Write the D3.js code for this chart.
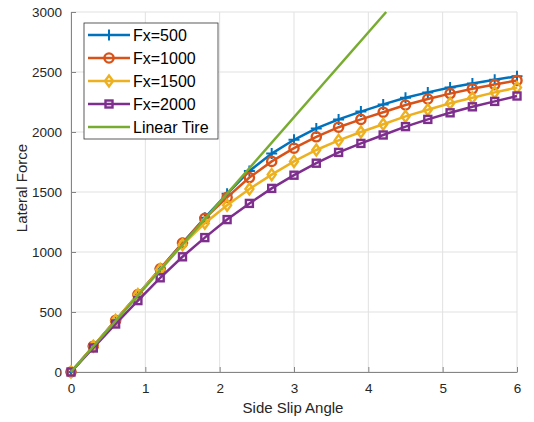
<!DOCTYPE html>
<html>
<head>
<meta charset="utf-8">
<script src="https://cdn.jsdelivr.net/npm/d3@7"></script>
<style>
  body { margin: 0; background: #fff; }
  text { font-family: "Liberation Sans", Arial, sans-serif; }
</style>
</head>
<body>
<div id="chart"></div>
<script>
// slip angle samples
var slip = [0, 0.3, 0.6, 0.9, 1.2, 1.5, 1.8, 2.1, 2.4, 2.7, 3.0, 3.3, 3.6, 3.9, 4.2, 4.5, 4.8, 5.1, 5.4, 5.7, 6.0];

var fx500  = [0, 215, 430, 645, 860, 1075, 1285, 1485, 1675, 1820, 1935, 2030, 2105, 2170, 2230, 2285, 2330, 2370, 2405, 2435, 2465];
var fx1000 = [0, 215, 430, 645, 860, 1075, 1280, 1455, 1620, 1755, 1865, 1960, 2040, 2105, 2165, 2225, 2275, 2320, 2360, 2395, 2430];
var fx1500 = [0, 215, 430, 645, 855, 1060, 1240, 1390, 1525, 1645, 1755, 1850, 1930, 2000, 2065, 2130, 2185, 2240, 2285, 2330, 2370];
var fx2000 = [0, 200, 400, 595, 785, 960, 1120, 1270, 1405, 1530, 1640, 1740, 1830, 1905, 1975, 2045, 2105, 2160, 2210, 2255, 2300];

var linearX = [0, 4.24];
var linearY = [0, 3000];

var names = ["Fx=500", "Fx=1000", "Fx=1500", "Fx=2000", "Linear Tire"];
var colors = ["#0072BD", "#D95319", "#EDB120", "#7E2F8E", "#77AC30"];
var markers = ["plus", "circle", "diamond", "square", "none"];

var xTicks = [0, 1, 2, 3, 4, 5, 6];
var yTicks = [0, 500, 1000, 1500, 2000, 2500, 3000];

var W = 534, H = 422;
var mLeft = 71, mRight = 517, mTop = 12, mBottom = 372;

var svg = d3.select("#chart").append("svg")
  .attr("width", W).attr("height", H);

var x = d3.scaleLinear().domain([0, 6]).range([mLeft, mRight]);
var y = d3.scaleLinear().domain([0, 3000]).range([mBottom, mTop]);

// grid
svg.append("g").selectAll("line").data(xTicks).enter().append("line")
  .attr("x1", function(d) { return x(d); }).attr("x2", function(d) { return x(d); })
  .attr("y1", mTop).attr("y2", mBottom)
  .attr("stroke", "#e1e1e1").attr("stroke-width", 1);
svg.append("g").selectAll("line").data(yTicks).enter().append("line")
  .attr("x1", mLeft).attr("x2", mRight)
  .attr("y1", function(d) { return y(d); }).attr("y2", function(d) { return y(d); })
  .attr("stroke", "#e1e1e1").attr("stroke-width", 1);

// axes
var xAxis = d3.axisBottom(x).tickValues(xTicks).tickFormat(d3.format("d"))
  .tickSizeInner(-5).tickSizeOuter(0).tickPadding(11);
var yAxis = d3.axisLeft(y).tickValues(yTicks).tickFormat(d3.format("d"))
  .tickSizeInner(-5).tickSizeOuter(0).tickPadding(9);

var gx = svg.append("g").attr("transform", "translate(0," + mBottom + ")").call(xAxis);
var gy = svg.append("g").attr("transform", "translate(" + mLeft + ",0)").call(yAxis);
[gx, gy].forEach(function(g) {
  g.select(".domain").attr("stroke", "#858585").attr("stroke-width", 1);
  g.selectAll(".tick line").attr("stroke", "#858585");
  g.selectAll(".tick text").attr("fill", "#262626").style("font-size", "13.5px")
    .style("font-family", "'Liberation Sans', Arial, sans-serif");
});

svg.append("text").attr("x", 293).attr("y", 413)
  .attr("text-anchor", "middle").attr("fill", "#262626").style("font-size", "15px")
  .text("Side Slip Angle");
svg.append("text").attr("transform", "translate(27," + 188 + ") rotate(-90)")
  .attr("text-anchor", "middle").attr("fill", "#262626").style("font-size", "15px")
  .text("Lateral Force");

var plot = svg.append("g");
var line = d3.line().x(function(d) { return x(d[0]); }).y(function(d) { return y(d[1]); });

function drawMarker(g, type, cx, cy, color) {
  if (type == "plus") {
    g.append("path").attr("d", "M" + (cx - 5.5) + "," + cy + "h11M" + cx + "," + (cy - 5.5) + "v11")
      .attr("stroke", color).attr("stroke-width", 2).attr("fill", "none");
  } else if (type == "circle") {
    g.append("circle").attr("cx", cx).attr("cy", cy).attr("r", 4.6)
      .attr("stroke", color).attr("stroke-width", 2.4).attr("fill", "none");
  } else if (type == "diamond") {
    g.append("path").attr("d", "M" + cx + "," + (cy - 5.5) + "L" + (cx + 4) + "," + cy + "L" + cx + "," + (cy + 5.5) + "L" + (cx - 4) + "," + cy + "Z")
      .attr("stroke", color).attr("stroke-width", 2.4).attr("fill", "none");
  } else if (type == "square") {
    g.append("rect").attr("x", cx - 3.5).attr("y", cy - 3.5).attr("width", 7).attr("height", 7)
      .attr("stroke", color).attr("stroke-width", 2.4).attr("fill", "none");
  }
}

var series = [fx500, fx1000, fx1500, fx2000];
series.forEach(function(vals, k) {
  var pts = slip.map(function(s, i) { return [s, vals[i]]; });
  plot.append("path").datum(pts).attr("d", line)
    .attr("fill", "none").attr("stroke", colors[k]).attr("stroke-width", 2.5);
  var mg = plot.append("g");
  pts.forEach(function(p) { drawMarker(mg, markers[k], x(p[0]), y(p[1]), colors[k]); });
});

var linPts = linearX.map(function(v, i) { return [v, linearY[i]]; });
plot.append("path").datum(linPts).attr("d", line)
  .attr("fill", "none").attr("stroke", colors[4]).attr("stroke-width", 2.5);

// legend
var lg = svg.append("g").attr("transform", "translate(84,23)");
lg.append("rect").attr("width", 134).attr("height", 116)
  .attr("fill", "#fff").attr("stroke", "#333").attr("stroke-width", 0.8);
names.forEach(function(n, i) {
  var ly = 12 + i * 23;
  lg.append("line").attr("x1", 4).attr("x2", 46).attr("y1", ly).attr("y2", ly)
    .attr("stroke", colors[i]).attr("stroke-width", 2.5);
  drawMarker(lg, markers[i], 25, ly, colors[i]);
  lg.append("text").attr("x", 49).attr("y", ly + 6).attr("fill", "#000")
    .style("font-size", "16px").text(n);
});
</script>
</body>
</html>
